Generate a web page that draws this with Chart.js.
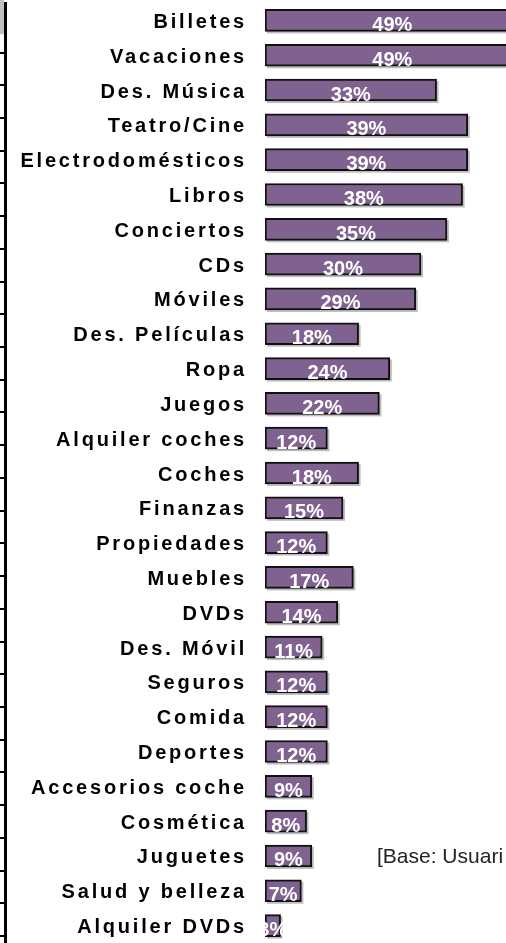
<!DOCTYPE html>
<html>
<head>
<meta charset="utf-8">
<script src="https://cdn.jsdelivr.net/npm/chart.js@4.4.1/dist/chart.umd.min.js"></script>
<style>
  html, body { margin: 0; padding: 0; background: #fff; }
</style>
</head>
<body>
<canvas id="bars" width="506" height="943"></canvas>
<script>
const categories = ["Billetes","Vacaciones","Des. Música","Teatro/Cine","Electrodomésticos","Libros","Conciertos","CDs","Móviles","Des. Películas","Ropa","Juegos","Alquiler coches","Coches","Finanzas","Propiedades","Muebles","DVDs","Des. Móvil","Seguros","Comida","Deportes","Accesorios coche","Cosmética","Juguetes","Salud y belleza","Alquiler DVDs"];
const values = [49,49,33,39,39,38,35,30,29,18,24,22,12,18,15,12,17,14,11,12,12,12,9,8,9,7,3];
const baseNote = "[Base: Usuari";
const noteRow = "Juguetes";

// label spacing for the category names, reset before the bars are drawn
const spacing = {
    id: "spacing",
    beforeDraw(chart) {
        chart.ctx.letterSpacing = "2.8px";
    },
    beforeDatasetsDraw(chart) {
        const ctx = chart.ctx;
        ctx.letterSpacing = "0px";
        // grey corner above the left rule
        const y2 = chart.scales.y2;
        ctx.fillStyle = "#c0c0c0";
        ctx.fillRect(0, 0, y2.right - 1, y2.getPixelForValue(0) - 2);
        // bar shadows
        ctx.fillStyle = "#bdbdbd";
        chart.getDatasetMeta(0).data.forEach(function (bar) {
            const h = bar.height;
            ctx.fillRect(bar.base + 2, bar.y - h / 2 + 2, bar.x - bar.base, h);
        });
    }
};

const barLabels = {
    id: "barLabels",
    afterDatasetsDraw(chart) {
        const ctx = chart.ctx;
        ctx.save();
        ctx.font = "bold 20px 'Liberation Sans', Arial, sans-serif";
        ctx.fillStyle = "#fff";
        ctx.textAlign = "center";
        ctx.textBaseline = "alphabetic";
        chart.getDatasetMeta(0).data.forEach(function (bar, i) {
            ctx.fillText(values[i] + "%", (bar.x + bar.base) / 2, bar.y + 10.5);
        });
        ctx.font = "21px 'Liberation Sans', Arial, sans-serif";
        ctx.fillStyle = "#222";
        ctx.textAlign = "left";
        ctx.textBaseline = "middle";
        const y = chart.scales.y.getPixelForValue(categories.indexOf(noteRow));
        ctx.fillText(baseNote, chart.chartArea.left + 112, y + 1);
        ctx.restore();
    }
};

new Chart(document.getElementById("bars"), {
    type: "bar",
    data: {
        labels: categories,
        datasets: [{
            data: values,
            backgroundColor: "#806290",
            borderColor: "#111",
            borderWidth: 2,
            borderSkipped: false,
            barThickness: 22
        }]
    },
    options: {
        indexAxis: "y",
        responsive: false,
        animation: false,
        layout: { padding: { top: 3, bottom: -5, left: 0, right: 0 } },
        plugins: {
            legend: { display: false },
            tooltip: { enabled: false }
        },
        scales: {
            x: { display: false, min: 0, max: 46.35 },
            y: {
                position: "left",
                weight: 0,
                grid: { display: false },
                border: { display: false },
                ticks: {
                    color: "#000",
                    padding: 10,
                    labelOffset: 2,
                    font: { family: "'Liberation Sans', Arial, sans-serif", size: 20, weight: "bold" }
                },
                afterFit(scale) {
                    scale.width = 260;
                    scale.paddingTop = 0;
                    scale.paddingBottom = 0;
                }
            },
            y2: {
                type: "linear",
                position: "left",
                weight: 1,
                reverse: true,
                min: -0.5,
                max: 27.2,
                ticks: { display: false, stepSize: 1, includeBounds: false },
                grid: { drawOnChartArea: false, color: "#000", lineWidth: 2, tickLength: 5 },
                border: { color: "#000", width: 3 }
            }
        }
    },
    plugins: [spacing, barLabels]
});
</script>
</body>
</html>
